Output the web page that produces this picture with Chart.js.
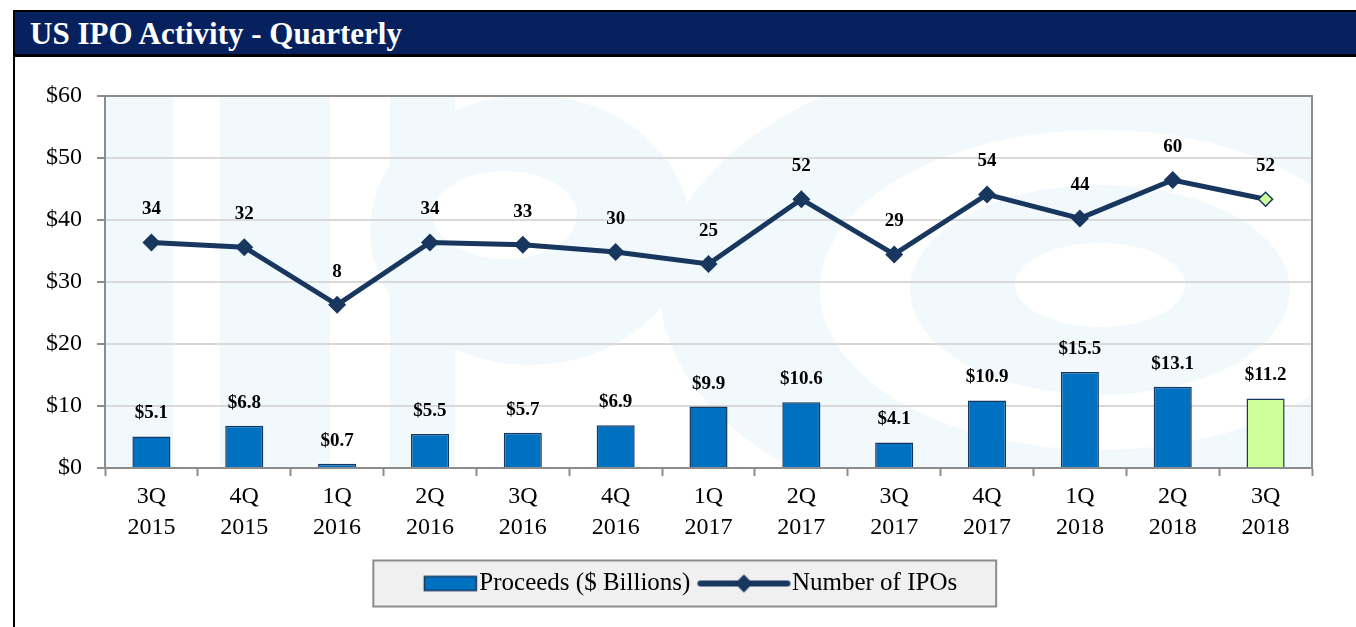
<!DOCTYPE html>
<html>
<head>
<meta charset="utf-8">
<script src="https://cdn.jsdelivr.net/npm/chart.js@4/dist/chart.umd.min.js"></script>
<style>
  body { margin: 0; background: #fff; }
  #frame { position: absolute; left: 13px; top: 10px; width: 1343px; height: 617px; border-left: 2px solid #000; border-top: 2px solid #000; }
  #title { height: 42px; background: #06215e; border-bottom: 3px solid #000; color: #fff; font: bold 31px "Liberation Serif", serif; line-height: 44px; padding-left: 15px; }
  #wrap { position: absolute; left: 15px; top: 57px; width: 1341px; height: 570px; }
</style>
</head>
<body>
<div id="frame"><div id="title">US IPO Activity - Quarterly</div></div>
<div id="wrap"><canvas id="c"></canvas></div>
<script>
// quarter labels, two lines each
const quarters = [
  ["3Q", "2015"], ["4Q", "2015"], ["1Q", "2016"], ["2Q", "2016"], ["3Q", "2016"],
  ["4Q", "2016"], ["1Q", "2017"], ["2Q", "2017"], ["3Q", "2017"], ["4Q", "2017"],
  ["1Q", "2018"], ["2Q", "2018"], ["3Q", "2018"]
];
const proceeds = [5.1, 6.8, 0.7, 5.5, 5.7, 6.9, 9.9, 10.6, 4.1, 10.9, 15.5, 13.1, 11.2];
const ipoCounts = [34, 32, 8, 34, 33, 30, 25, 52, 29, 54, 44, 60, 52];
const dollarTicks = [0, 10, 20, 30, 40, 50, 60];

const FONT = '"Liberation Serif", "Times New Roman", serif';
const BLUE = '#0070c0';
const NAVY = '#17375e';
const GREEN = '#ccff99';
const last = quarters.length - 1;

const barColors = proceeds.map((v, i) => i === last ? GREEN : BLUE);
const pointFill = ipoCounts.map((v, i) => i === last ? GREEN : NAVY);
const pointRadius = ipoCounts.map((v, i) => i === last ? 7 : 9);
const pointBorder = ipoCounts.map((v, i) => i === last ? 1.5 : 0);

// little pictures for the legend
function swatch(kind) {
  const c = document.createElement('canvas');
  c.width = 108; c.height = 26;
  const g = c.getContext('2d');
  if (kind === 'bar') {
    g.fillStyle = BLUE;
    g.fillRect(53.5, 6, 52, 14);
    g.strokeStyle = NAVY; g.lineWidth = 1.5;
    g.strokeRect(53.5, 6, 52, 14);
  } else {
    g.strokeStyle = NAVY; g.lineWidth = 6; g.lineCap = 'round';
    g.beginPath(); g.moveTo(17, 13); g.lineTo(104, 13); g.stroke();
    g.fillStyle = NAVY;
    g.beginPath(); g.moveTo(60.5, 4); g.lineTo(69.5, 13); g.lineTo(60.5, 22); g.lineTo(51.5, 13); g.closePath(); g.fill();
  }
  return c;
}
const barSwatch = swatch('bar');
const lineSwatch = swatch('line');

const watermark = {
  id: 'watermark',
  beforeDraw(chart) {
    const {ctx, chartArea: a} = chart;
    // page coords -> canvas coords
    const px = x => x - 15, py = y => y - 57;
    ctx.save();
    ctx.beginPath(); ctx.rect(a.left, a.top, a.right - a.left, a.bottom - a.top); ctx.clip();
    const light = '#f2f9fc';
    ctx.fillStyle = light;
    ctx.fillRect(px(105), a.top, 68, a.bottom - a.top);
    ctx.fillRect(px(220), a.top, 110, a.bottom - a.top);
    ctx.fillRect(px(390), a.top, 65, a.bottom - a.top);
    const ell = (cx, cy, rx, ry, col) => {
      ctx.fillStyle = col;
      ctx.beginPath(); ctx.ellipse(px(cx), py(cy), rx, ry, 0, 0, Math.PI * 2); ctx.fill();
    };
    ell(530, 230, 160, 135, light);
    ell(505, 215, 72, 44, '#fff');
    ell(1100, 290, 440, 250, light);
    ell(1100, 290, 280, 160, '#fff');
    ell(1100, 290, 190, 105, light);
    ell(1100, 285, 85, 42, '#fff');
    ctx.restore();

    // legend panel
    const hb = chart.legend.legendHitBoxes;
    if (hb && hb.length) {
      const l = Math.min(...hb.map(h => h.left)) - 9.5;
      const r = Math.max(...hb.map(h => h.left + h.width)) + 39;
      const t = hb[0].top - 10.5;
      ctx.save();
      ctx.fillStyle = '#f0f0f0';
      ctx.fillRect(l, t, r - l, 46);
      ctx.strokeStyle = '#8c8c8c'; ctx.lineWidth = 2;
      ctx.strokeRect(l, t, r - l, 46);
      ctx.restore();
    }
  },
  beforeDatasetsDraw(chart) {
    const {ctx, chartArea: a} = chart;
    ctx.save();
    ctx.strokeStyle = '#8c8c8c'; ctx.lineWidth = 2;
    ctx.beginPath();
    ctx.moveTo(a.left, a.top); ctx.lineTo(a.right, a.top); ctx.lineTo(a.right, a.bottom);
    ctx.stroke();
    ctx.restore();
  }
};

const valueLabels = {
  id: 'valueLabels',
  afterDatasetsDraw(chart) {
    const ctx = chart.ctx;
    ctx.save();
    ctx.font = 'bold 19px ' + FONT;
    ctx.fillStyle = '#000';
    ctx.textAlign = 'center';
    ctx.textBaseline = 'middle';
    chart.getDatasetMeta(0).data.forEach((bar, i) => {
      ctx.fillText('$' + proceeds[i].toFixed(1), bar.x, bar.y - 23);
    });
    chart.getDatasetMeta(1).data.forEach((pt, i) => {
      ctx.fillText(String(ipoCounts[i]), pt.x, pt.y - 33);
    });
    ctx.restore();
  }
};

new Chart(document.getElementById('c'), {
  data: {
    labels: quarters,
    datasets: [
      {
        type: 'bar',
        label: 'Proceeds ($ Billions)',
        data: proceeds,
        yAxisID: 'y',
        backgroundColor: barColors,
        borderColor: NAVY,
        borderWidth: 1.5,
        borderSkipped: 'bottom',
        barPercentage: 0.41,
        categoryPercentage: 1,
        order: 2
      },
      {
        type: 'line',
        label: 'Number of IPOs',
        data: ipoCounts,
        yAxisID: 'y1',
        borderColor: NAVY,
        borderWidth: 5,
        pointStyle: 'rectRot',
        pointRadius: pointRadius,
        pointBackgroundColor: pointFill,
        pointBorderColor: NAVY,
        pointBorderWidth: pointBorder,
        tension: 0,
        order: 1
      }
    ]
  },
  options: {
    responsive: true,
    maintainAspectRatio: false,
    animation: false,
    layout: { padding: { left: 13, right: 44, top: 39, bottom: 21 } },
    plugins: {
      tooltip: { enabled: false },
      legend: {
        position: 'bottom',
        labels: {
          usePointStyle: true,
          pointStyleWidth: 84,
          padding: 5,
          color: '#000',
          font: { family: FONT, size: 25 },
          generateLabels: () => [
            { text: 'Proceeds ($ Billions)', pointStyle: barSwatch, datasetIndex: 0, hidden: false, fontColor: '#000', lineWidth: 0 },
            { text: 'Number of IPOs', pointStyle: lineSwatch, datasetIndex: 1, hidden: false, fontColor: '#000', lineWidth: 0 }
          ]
        }
      }
    },
    scales: {
      x: {
        offset: true,
        grid: { offset: true, drawOnChartArea: false, tickLength: 8, tickColor: '#8c8c8c', tickWidth: 2 },
        border: { color: '#8c8c8c', width: 2 },
        ticks: { color: '#000', padding: 5, font: { family: FONT, size: 24, lineHeight: 1.3 }, maxRotation: 0, autoSkip: false },
        afterFit: s => { s.height = 98; }
      },
      y: {
        min: 0, max: 60,
        afterBuildTicks: s => { s.ticks = dollarTicks.map(v => ({ value: v })); },
        grid: { color: '#d9d9d9', lineWidth: 2, tickLength: 8, tickColor: '#8c8c8c', tickWidth: 2 },
        border: { color: '#8c8c8c', width: 2 },
        ticks: { color: '#000', padding: 15, font: { family: FONT, size: 24 }, callback: v => '$' + v },
        afterFit: s => { s.width = 77; }
      },
      y1: {
        display: false,
        min: -60, max: 95
      }
    }
  },
  plugins: [watermark, valueLabels]
});
</script>
</body>
</html>
